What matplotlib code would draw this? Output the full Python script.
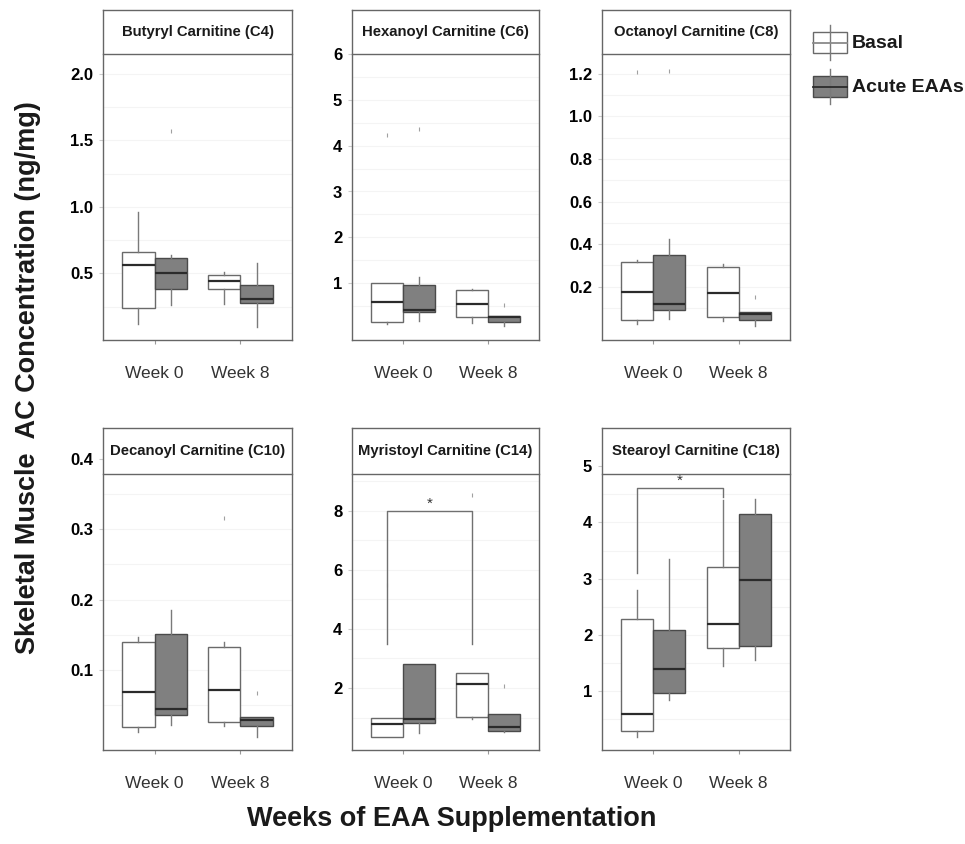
import matplotlib
matplotlib.use("Agg")
import matplotlib.pyplot as plt
from matplotlib.patches import Rectangle

plt.rcParams['font.family'] = ['Liberation Sans', 'DejaVu Sans']

# ---- data ----
# each box: (lower whisker, q1, median, q3, upper whisker), [week 0, week 8]
titles = ["Butyryl Carnitine (C4)", "Hexanoyl Carnitine (C6)", "Octanoyl Carnitine (C8)",
          "Decanoyl Carnitine (C10)", "Myristoyl Carnitine (C14)", "Stearoyl Carnitine (C18)"]
weeks = ["Week 0", "Week 8"]
groups = ["Basal", "Acute EAAs"]

c4_basal = [(0.12, 0.24, 0.56, 0.66, 0.96), (0.27, 0.38, 0.44, 0.49, 0.51)]
c4_acute = [(0.26, 0.38, 0.50, 0.62, 0.64), (0.10, 0.28, 0.31, 0.41, 0.58)]
c4_out_basal = [[], []]
c4_out_acute = [[1.57], []]

c6_basal = [(0.12, 0.15, 0.58, 1.00, 1.00), (0.13, 0.26, 0.54, 0.85, 0.87)]
c6_acute = [(0.18, 0.37, 0.41, 0.96, 1.13), (0.06, 0.16, 0.26, 0.28, 0.28)]
c6_out_basal = [[4.23], []]
c6_out_acute = [[4.36], [0.52]]

c8_basal = [(0.026, 0.045, 0.177, 0.317, 0.325), (0.037, 0.058, 0.170, 0.295, 0.305)]
c8_acute = [(0.050, 0.093, 0.120, 0.350, 0.425), (0.017, 0.045, 0.072, 0.080, 0.080)]
c8_out_basal = [[1.207], []]
c8_out_acute = [[1.213], [0.150]]

c10_basal = [(0.012, 0.019, 0.069, 0.140, 0.147), (0.020, 0.026, 0.072, 0.133, 0.140)]
c10_acute = [(0.022, 0.036, 0.045, 0.151, 0.185), (0.005, 0.020, 0.028, 0.033, 0.033)]
c10_out_basal = [[], [0.316]]
c10_out_acute = [[], [0.067]]

c14_basal = [(0.34, 0.34, 0.78, 0.98, 0.98), (0.95, 1.02, 2.12, 2.50, 2.50)]
c14_acute = [(0.47, 0.82, 0.95, 2.80, 2.80), (0.50, 0.55, 0.68, 1.12, 1.12)]
c14_out_basal = [[5.5], [8.53]]
c14_out_acute = [[], [2.05]]

c18_basal = [(0.18, 0.29, 0.59, 2.28, 2.80), (1.44, 1.76, 2.19, 3.20, 4.40)]
c18_acute = [(0.84, 0.96, 1.39, 2.08, 3.35), (1.55, 1.80, 2.97, 4.15, 4.41)]
c18_out_basal = [[], []]
c18_out_acute = [[], []]

# significance brackets (left foot, top, right foot)
c14_sig = (3.5, 8.0, 3.5)
c18_sig = (3.1, 4.62, 4.45)

c4_ticks = [0.5, 1.0, 1.5, 2.0]
c6_ticks = [1, 2, 3, 4, 5, 6]
c8_ticks = [0.2, 0.4, 0.6, 0.8, 1.0, 1.2]
c10_ticks = [0.1, 0.2, 0.3, 0.4]
c14_ticks = [2, 4, 6, 8]
c18_ticks = [1, 2, 3, 4, 5]

panels = [
    (c4_basal, c4_acute, c4_out_basal, c4_out_acute, c4_ticks, "{:.1f}", None),
    (c6_basal, c6_acute, c6_out_basal, c6_out_acute, c6_ticks, "{:d}", None),
    (c8_basal, c8_acute, c8_out_basal, c8_out_acute, c8_ticks, "{:.1f}", None),
    (c10_basal, c10_acute, c10_out_basal, c10_out_acute, c10_ticks, "{:.1f}", None),
    (c14_basal, c14_acute, c14_out_basal, c14_out_acute, c14_ticks, "{:d}", c14_sig),
    (c18_basal, c18_acute, c18_out_basal, c18_out_acute, c18_ticks, "{:d}", c18_sig),
]

# ---- layout (pixels of a 965x844 figure) ----
W, H = 965, 844
col_x = [(103, 292), (352, 539), (602, 790)]
row_y = [(10, 54, 340), (428, 474, 750)]   # frame top, strip bottom, axis bottom
ylims = [(0.0, 2.48), (-0.24, 6.96), (-0.05, 1.50),
         (-0.014, 0.444), (-0.1, 10.8), (-0.05, 5.68)]

basal_fill, acute_fill = "white", "#808080"
basal_edge, acute_edge = "#6a6a6a", "#4a4a4a"
frame_col = "#666666"

fig = plt.figure(figsize=(W / 100, H / 100), dpi=100)


def box_stats(b, out):
    return dict(whislo=b[0], q1=b[1], med=b[2], q3=b[3], whishi=b[4], fliers=out)


for i, (basal, acute, ob, oa, ticks, fmt, sig) in enumerate(panels):
    x0, x1 = col_x[i % 3]
    top, strip_bot, bot = row_y[i // 3]
    ax = fig.add_axes([x0 / W, 1 - bot / H, (x1 - x0) / W, (bot - top) / H])
    ax.set_xlim(0.4, 2.6)
    ax.set_ylim(*ylims[i])

    # faint grid at major and half steps
    step = ticks[1] - ticks[0]
    g = ticks[0] - step / 2
    while g < ylims[i][1]:
        ax.axhline(g, color="#f4f4f4", lw=0.8, zorder=0)
        g += step / 2

    for grp, (data, outs, fill, edge, off) in enumerate([
            (basal, ob, basal_fill, basal_edge, -0.1875),
            (acute, oa, acute_fill, acute_edge, 0.1875)]):
        stats = [box_stats(data[k], outs[k]) for k in range(2)]
        ax.bxp(stats, positions=[1 + off, 2 + off], widths=0.375,
               patch_artist=True, showcaps=False, showfliers=True,
               boxprops=dict(facecolor=fill, edgecolor=edge, lw=1.0),
               whiskerprops=dict(color="#7a7a7a", lw=1.0),
               medianprops=dict(color="#2b2b2b", lw=1.6),
               flierprops=dict(marker="|", markersize=3, markeredgewidth=0.8,
                               markeredgecolor="#a0a0a0"),
               manage_ticks=False, zorder=2)

    if sig is not None:
        xa, xb = 1 - 0.1875, 2 - 0.1875
        ax.plot([xa, xa, xb, xb], [sig[0], sig[1], sig[1], sig[2]],
                color="#707070", lw=1.0, zorder=3)
        ax.text((xa + xb) / 2, sig[1], "*", ha="center", va="bottom",
                fontsize=11, color="#333333")

    # strip on top of the panel
    frac = 1 - (strip_bot - top) / (bot - top)
    ax.add_patch(Rectangle((0, frac), 1, 1 - frac, transform=ax.transAxes,
                           facecolor="white", edgecolor="none", zorder=5, clip_on=False))
    ax.plot([0, 1], [frac, frac], transform=ax.transAxes, color=frame_col,
            lw=1.0, zorder=6, clip_on=False)
    ax.text(0.5, (1 + frac) / 2, titles[i], transform=ax.transAxes, ha="center",
            va="center", fontsize=10.7, fontweight="bold", color="#1a1a1a", zorder=7)

    ax.set_yticks(ticks)
    ax.set_yticklabels([fmt.format(t) for t in ticks], fontsize=12, fontweight="bold")
    ax.set_xticks([1, 2])
    ax.set_xticklabels(weeks, fontsize=12.5, color="#333333")
    ax.tick_params(axis="x", length=3, color="#999999", pad=16)
    ax.tick_params(axis="y", length=3, color="#cccccc", pad=4)
    for s in ax.spines.values():
        s.set_color(frame_col)
        s.set_linewidth(1.0)
        s.set_zorder(8)

# ---- legend drawn by hand ----
lg = fig.add_axes([800 / W, 1 - 115 / H, 165 / W, 105 / H])
lg.set_xlim(800, 965)
lg.set_ylim(115, 10)
lg.axis("off")
for label, fill, edge, yb in [(groups[0], basal_fill, basal_edge, 32),
                              (groups[1], acute_fill, acute_edge, 76)]:
    lg.plot([830, 830], [yb - 7, yb + 28], color="#7a7a7a", lw=1.0)
    lg.add_patch(Rectangle((813, yb), 34, 21, facecolor=fill, edgecolor=edge, lw=1.0))
    lg.plot([813, 847], [yb + 10.5, yb + 10.5], color="#2b2b2b" if fill != "white" else "#8a8a8a", lw=1.3)
    lg.text(852, yb + 11, label, fontsize=14, fontweight="bold", va="center", ha="left",
            color="#1a1a1a")

fig.text(28 / W, 1 - 378 / H, "Skeletal Muscle  AC Concentration (ng/mg)", rotation=90,
         ha="center", va="center", fontsize=19.5, fontweight="bold", color="#1a1a1a")
fig.text(452 / W, 1 - 819 / H, "Weeks of EAA Supplementation", ha="center", va="center",
         fontsize=19.5, fontweight="bold", color="#1a1a1a")

fig.savefig("out.png", dpi=100)
